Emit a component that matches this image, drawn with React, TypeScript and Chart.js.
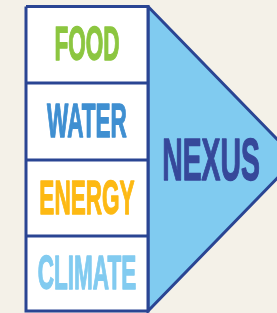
import React, { useEffect, useRef } from "react";
import { Chart, registerables } from "chart.js";

Chart.register(...registerables);

// Diagram data (axis units = pixels of the 277x313 view)
const categories = ["FOOD", "WATER", "ENERGY", "CLIMATE"];
const categoryColors = ["#8cc640", "#3f8fd1", "#fdb913", "#82cbf0"];
const rowEdges = [6.5, 83, 160, 236, 311];
const boxLeft = 26;
const boxRight = 148;
const arrowTipX = 296;
const hubLabel = "NEXUS";
const hubColor = "#36489a";
const borderColor = "#2a4593";
const arrowFill = "#80cbf0";
const bgColor = "#f4f1e8";

export default function App() {
  const ref = useRef<HTMLCanvasElement | null>(null);

  useEffect(() => {
    document.body.style.margin = "0";
    document.body.style.background = bgColor;
    const canvas = ref.current;
    if (!canvas) return;

    const top = rowEdges[0];
    const bottom = rowEdges[rowEdges.length - 1];
    const mid = (top + bottom) / 2;

    const triangle = [
      { x: boxRight, y: top },
      { x: arrowTipX, y: mid },
      { x: boxRight, y: bottom },
      { x: boxRight, y: top },
    ];
    const box = [
      { x: boxLeft, y: top },
      { x: boxRight, y: top },
      { x: boxRight, y: bottom },
      { x: boxLeft, y: bottom },
      { x: boxLeft, y: top },
    ];
    const dividers = rowEdges.slice(1, -1).map((y) => ({
      type: "line" as const,
      data: [
        { x: boxLeft, y },
        { x: boxRight, y },
      ],
      borderColor,
      borderWidth: 3,
      pointRadius: 0,
      showLine: true,
      fill: false,
      order: 0,
    }));

    const bgPlugin = {
      id: "bg",
      beforeDraw(chart: any) {
        const c = chart.ctx;
        c.save();
        c.fillStyle = bgColor;
        c.fillRect(0, 0, chart.width, chart.height);
        c.restore();
      },
    };

    const drawCondensed = (
      c: CanvasRenderingContext2D,
      text: string,
      cx: number,
      cy: number,
      size: number,
      scaleX: number,
      color: string
    ) => {
      c.save();
      c.font = `bold ${size}px "Liberation Sans", Arial, sans-serif`;
      c.textAlign = "center";
      c.textBaseline = "alphabetic";
      c.fillStyle = color;
      c.strokeStyle = color;
      c.lineWidth = 1.4;
      c.lineJoin = "round";
      c.translate(cx, cy + size * 0.716 / 2);
      c.scale(scaleX, 1);
      c.fillText(text, 0, 0);
      c.strokeText(text, 0, 0);
      c.restore();
    };

    const labelPlugin = {
      id: "labels",
      afterDatasetsDraw(chart: any) {
        const c = chart.ctx as CanvasRenderingContext2D;
        const xs = chart.scales.x;
        const ys = chart.scales.y;
        const cx = xs.getPixelForValue((boxLeft + boxRight) / 2);
        categories.forEach((name, i) => {
          const cy = ys.getPixelForValue((rowEdges[i] + rowEdges[i + 1]) / 2) - 1.5;
          drawCondensed(c, name, cx, cy, 48, 0.47, categoryColors[i]);
        });
        const hx = xs.getPixelForValue(211);
        const hy = ys.getPixelForValue(mid);
        drawCondensed(c, hubLabel, hx, hy, 59, 0.48, hubColor);
      },
    };

    const chart = new Chart(canvas, {
      type: "scatter",
      data: {
        datasets: [
          ...dividers,
          {
            type: "line",
            data: box,
            borderColor,
            borderWidth: 3,
            backgroundColor: "#ffffff",
            fill: "shape",
            pointRadius: 0,
            tension: 0,
            showLine: true,
            borderJoinStyle: "miter",
            order: 1,
          } as any,
          {
            type: "line",
            data: triangle,
            borderColor,
            borderWidth: 3,
            backgroundColor: arrowFill,
            fill: "shape",
            pointRadius: 0,
            tension: 0,
            showLine: true,
            borderJoinStyle: "miter",
            order: 2,
          } as any,
        ],
      },
      options: {
        animation: false,
        responsive: false,
        maintainAspectRatio: false,
        layout: { padding: 0 },
        plugins: { legend: { display: false }, tooltip: { enabled: false } },
        scales: {
          x: { type: "linear", min: 0, max: 277, display: false },
          y: { type: "linear", min: 0, max: 313, reverse: true, display: false },
        },
      },
      plugins: [bgPlugin, labelPlugin],
    });

    return () => chart.destroy();
  }, []);

  return <canvas ref={ref} width={277} height={313} style={{ display: "block" }} />;
}
